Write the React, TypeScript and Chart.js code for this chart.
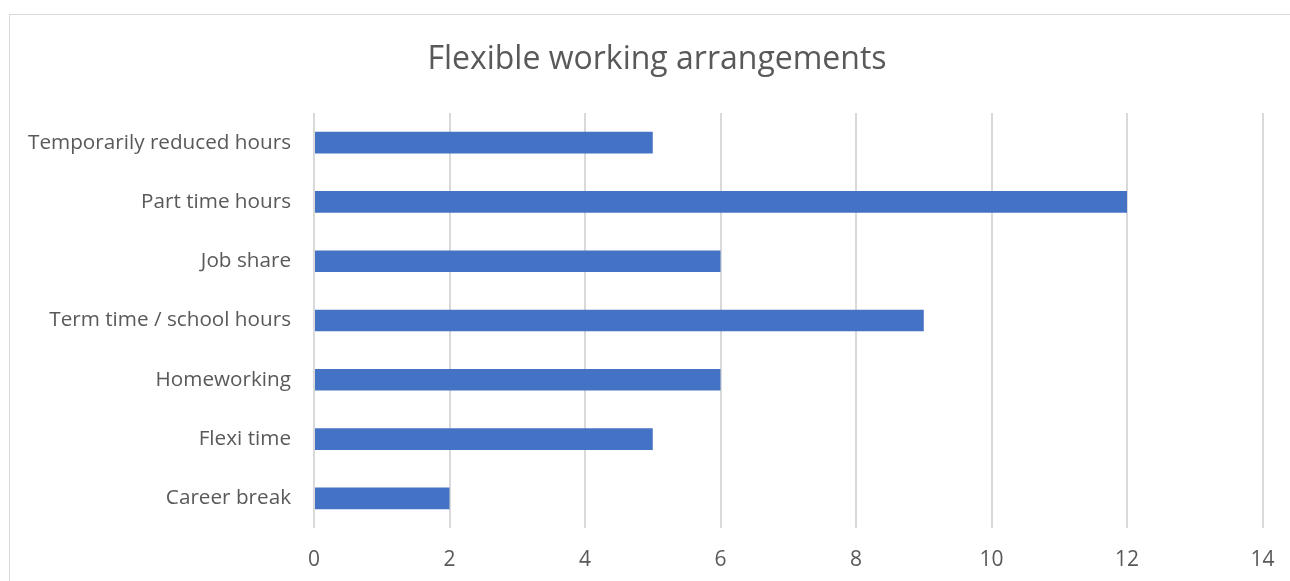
import React, { useEffect, useRef } from "react";
import { Chart, registerables } from "chart.js";

Chart.register(...registerables);

const categories = [
  "Temporarily reduced hours",
  "Part time hours",
  "Job share",
  "Term time / school hours",
  "Homeworking",
  "Flexi time",
  "Career break",
];
const values = [5, 12, 6, 9, 6, 5, 2];
const xTicks = [0, 2, 4, 6, 8, 10, 12, 14];
const titleText = "Flexible working arrangements";

const TEXT = "#595959";
const GRID = "#d9d9d9";
const BAR = "#4472C4";
const FONT = "'Open Sans', sans-serif";

const titleShift = {
  id: "titleShift",
  afterLayout(chart: any) {
    const t = chart.titleBlock;
    if (t) {
      t.left = 51;
      t.right = 1263;
      t.width = t.right - t.left;
    }
  },
};

export default function App() {
  const ref = useRef<HTMLCanvasElement | null>(null);

  useEffect(() => {
    document.body.style.margin = "0";
    const ctx = ref.current!;
    const chart = new Chart(ctx, {
      type: "bar",
      data: {
        labels: categories,
        datasets: [
          {
            data: values,
            backgroundColor: BAR,
            borderWidth: 0,
            categoryPercentage: 1,
            barPercentage: 0.365,
          },
        ],
      },
      plugins: [titleShift],
      options: {
        indexAxis: "y",
        animation: false,
        responsive: false,
        maintainAspectRatio: false,
        layout: { padding: { left: 0, right: 27.5, top: 0, bottom: 0 } },
        plugins: {
          legend: { display: false },
          tooltip: { enabled: false },
          title: {
            display: true,
            text: titleText,
            color: TEXT,
            font: { family: FONT, size: 32, weight: "normal", lineHeight: 1.2 },
            padding: { top: 41, bottom: 33.6 },
          },
        },
        scales: {
          x: {
            min: 0,
            max: 14,
            afterBuildTicks: (s: any) => {
              s.ticks = xTicks.map((v) => ({ value: v }));
            },
            afterFit: (s: any) => {
              s.height = 53;
              s.paddingLeft = 0;
              s.paddingRight = 0;
            },
            grid: { color: GRID, lineWidth: 2, drawTicks: false },
            border: { display: false },
            ticks: {
              color: TEXT,
              font: { family: FONT, size: 21 },
              padding: 19,
            },
          },
          y: {
            afterFit: (s: any) => {
              s.width = 314;
              s.paddingTop = 0;
              s.paddingBottom = 0;
            },
            grid: { display: false, drawTicks: false },
            border: { display: false },
            ticks: {
              color: TEXT,
              font: { family: FONT, size: 20.7 },
              padding: 23,
            },
          },
        },
      },
    });
    return () => chart.destroy();
  }, []);

  return (
    <div style={{ position: "relative", width: 1290, height: 581, overflow: "hidden", background: "#fff" }}>
      <div
        style={{
          position: "absolute",
          left: 9,
          top: 14,
          width: 1400,
          height: 700,
          border: "1.5px solid " + GRID,
          boxSizing: "border-box",
        }}
      />
      <canvas ref={ref} width={1290} height={581} style={{ position: "absolute", left: 0, top: 0, display: "block" }} />
    </div>
  );
}
